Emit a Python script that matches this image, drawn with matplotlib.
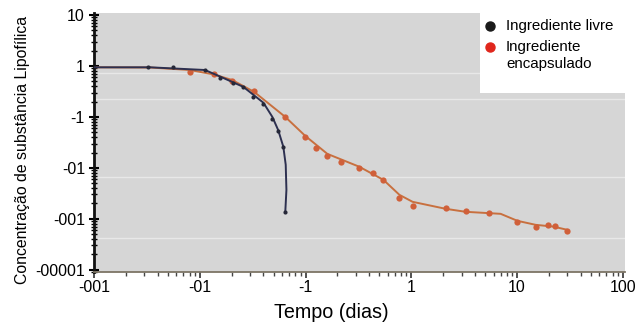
import matplotlib
matplotlib.use("Agg")
import matplotlib.pyplot as plt
from matplotlib.ticker import FixedLocator, FixedFormatter, LogLocator, NullFormatter

plt.rcParams['font.family'] = ['Liberation Sans', 'DejaVu Sans']

# free ingredient (black): measured points and traced curve
livre_t = [0.00324, 0.0056, 0.0112, 0.0156, 0.0207, 0.0258, 0.032, 0.040,
           0.0486, 0.0552, 0.0617, 0.0644]
livre_c = [0.97, 0.955, 0.835, 0.58, 0.46, 0.39, 0.247, 0.18,
           0.093, 0.053, 0.026, 0.00137]
livre_line_t = [0.001, 0.0034, 0.0112, 0.0156, 0.0258, 0.040, 0.0486, 0.0552,
                0.0617, 0.0650, 0.0660, 0.0644]
livre_line_c = [0.943, 0.943, 0.835, 0.62, 0.39, 0.19, 0.10, 0.055,
                0.026, 0.0115, 0.0037, 0.00137]

# encapsulated ingredient (orange): measured points and traced curve
encap_t = [0.0081, 0.0137, 0.0203, 0.0327, 0.0644, 0.0995, 0.126, 0.161,
           0.218, 0.323, 0.438, 0.546, 0.773, 1.03, 2.11, 3.26, 5.38,
           10.1, 15.0, 19.5, 22.7, 29.5]
encap_c = [0.76, 0.70, 0.51, 0.32, 0.10, 0.041, 0.0247, 0.0172,
           0.0131, 0.0100, 0.0080, 0.0058, 0.00258, 0.0018, 0.00164, 0.00143,
           0.00131, 0.00087, 0.00070, 0.00076, 0.00073, 0.00058]
encap_line_t = [0.001, 0.0034, 0.0081, 0.0137, 0.0203, 0.0327, 0.0644, 0.0995,
                0.161, 0.323, 0.546, 0.773, 1.03, 2.11, 3.26, 7.0, 10.1,
                15.0, 22.2, 29.5]
encap_line_c = [0.943, 0.935, 0.835, 0.68, 0.53, 0.31, 0.100, 0.0424,
                0.0188, 0.0105, 0.0058, 0.00295, 0.00215, 0.00157, 0.00137,
                0.00125, 0.00091, 0.00076, 0.0007, 0.00061]

x_ticks = [0.001, 0.01, 0.1, 1, 10, 100]
x_labels = ['-001', '-01', '-1', '1', '10', '100']
y_ticks = [10, 1, 0.1, 0.01, 0.001, 0.0001]
y_labels = ['10', '1', '-1', '-01', '-001', '-00001']
streaks = [0.74, 0.225, 0.0065, 0.00042]   # white scan lines in the background

W, H = 638, 327
fig = plt.figure(figsize=(W / 100, H / 100), dpi=100)
ax = fig.add_axes([94 / W, 1 - 272 / H, 531 / W, 259 / H])
ax.set_facecolor('#d6d6d6')
ax.set_xscale('log')
ax.set_yscale('log')
ax.set_xlim(0.001, 105)
ax.set_ylim(9e-5, 11)

for s in streaks:
    ax.axhline(s, color='white', lw=1.0, alpha=0.45, zorder=1)

ax.plot(encap_line_t, encap_line_c, color='#c8703f', lw=1.4, zorder=2)
ax.plot(encap_t, encap_c, 'o', color='#d0603a', ms=4.5, mec='none', zorder=3)
ax.plot(livre_line_t, livre_line_c, color='#2d3050', lw=1.4, zorder=4)
ax.plot(livre_t, livre_c, 'o', color='#262838', ms=3, mec='none', zorder=5)

ax.xaxis.set_major_locator(FixedLocator(x_ticks))
ax.xaxis.set_major_formatter(FixedFormatter(x_labels))
ax.yaxis.set_major_locator(FixedLocator(y_ticks))
ax.yaxis.set_major_formatter(FixedFormatter(y_labels))
ax.xaxis.set_minor_locator(LogLocator(base=10, subs=range(2, 10)))
ax.yaxis.set_minor_locator(LogLocator(base=10, subs=range(2, 10)))
ax.xaxis.set_minor_formatter(NullFormatter())
ax.yaxis.set_minor_formatter(NullFormatter())

ax.tick_params(axis='y', which='major', direction='inout', length=7, width=1.5,
               labelsize=11.5, pad=3)
ax.tick_params(axis='y', which='minor', direction='inout', length=4, width=1)
ax.tick_params(axis='x', which='major', direction='out', length=4, width=1.2,
               labelsize=11.5, pad=2, color='#333333')
ax.tick_params(axis='x', which='minor', direction='out', length=3, width=1,
               color='#444444')

for side in ['top', 'right']:
    ax.spines[side].set_visible(False)
ax.spines['left'].set_linewidth(2)
ax.spines['left'].set_color('#111111')
ax.spines['bottom'].set_linewidth(1.3)
ax.spines['bottom'].set_color('#7d7566')

ax.set_ylabel('Concentração de substância Lipofílica', fontsize=11.4)
ax.yaxis.set_label_coords((30 - 94) / 531, 0.47)
fig.text(331 / W, 1 - 313 / H, 'Tempo (dias)', fontsize=14.2,
         ha='center', va='center')

# legend box
lax = fig.add_axes([480 / W, 1 - 93 / H, 152 / W, 93 / H])
lax.set_facecolor('white')
lax.set_xlim(0, 1)
lax.set_ylim(0, 1)
lax.set_xticks([])
lax.set_yticks([])
for sp in lax.spines.values():
    sp.set_visible(False)
lax.plot([0.066], [0.72], 'o', color='#1a1a1a', ms=6.5)
lax.plot([0.066], [0.495], 'o', color='#e0261c', ms=6.5)
lax.text(0.171, 0.72, 'Ingrediente livre', fontsize=10.9, va='center')
lax.text(0.171, 0.495, 'Ingrediente', fontsize=10.9, va='center')
lax.text(0.171, 0.31, 'encapsulado', fontsize=10.9, va='center')

fig.savefig('out.png', dpi=100)
